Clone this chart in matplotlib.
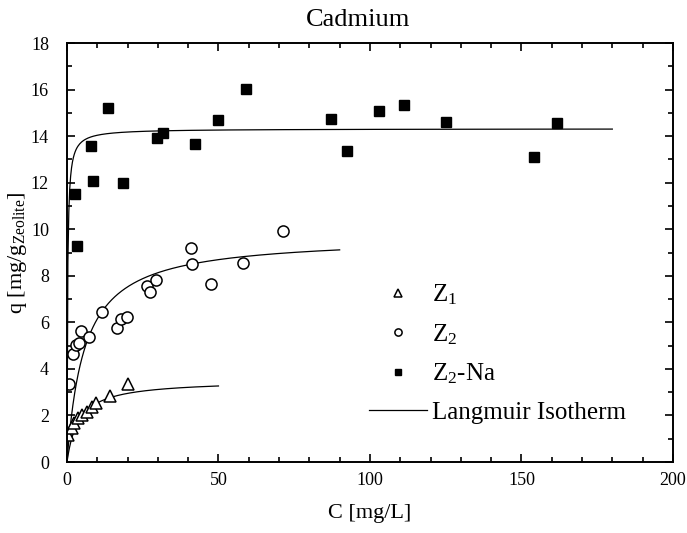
import matplotlib
matplotlib.use('Agg')

import matplotlib.pyplot as plt
import numpy as np

plt.rcParams['font.family'] = 'Liberation Serif'
plt.rcParams['mathtext.fontset'] = 'custom'
plt.rcParams['mathtext.rm'] = 'Liberation Serif'
plt.rcParams['mathtext.it'] = 'Liberation Serif:italic'


# ===============================
# DATA
# ===============================
z1_c = [0.5, 1.5, 2.3, 3.6, 5.0, 6.5, 8.3, 9.6, 14.2, 20.1]
z1_q = [1.15, 1.45, 1.68, 1.88, 2.02, 2.15, 2.35, 2.55, 2.85, 3.35]

z2_c = [0.8, 2.1, 3.0, 4.0, 4.6, 7.2, 11.4, 16.6, 17.9, 19.7,
        26.3, 27.3, 29.3, 41.0, 41.3, 47.5, 58.0, 71.4]
z2_q = [3.35, 4.64, 5.04, 5.12, 5.64, 5.38, 6.44, 5.74, 6.14, 6.22,
        7.56, 7.30, 7.83, 9.20, 8.50, 7.64, 8.57, 9.94]

z2na_c = [2.7, 3.3, 7.8, 8.6, 13.6, 18.4, 29.8, 31.8, 42.1, 49.7,
          59.1, 87.0, 92.3, 103.1, 111.1, 125.0, 154.1, 161.9]
z2na_q = [11.53, 9.28, 13.56, 12.07, 15.2, 11.99, 13.92, 14.13, 13.65, 14.68,
          16.02, 14.75, 13.38, 15.08, 15.35, 14.6, 13.09, 14.56]

# Langmuir fit parameters (q_max, K, C range of the drawn line)
lang_z1 = (3.52, 0.258, 50)
lang_z2 = (9.7, 0.173, 90)
lang_z2na = (14.32, 5.0, 180)


def langmuir(qmax, k, cmax):
    c = np.linspace(0, cmax, 600)
    return c, qmax * k * c / (1 + k * c)


# ===============================
# PLOT
# ===============================
fig = plt.figure(figsize=(6.87, 5.33), dpi=100)
ax = fig.add_axes([0.0975, 0.1332, 0.882, 0.786])

for params in (lang_z1, lang_z2, lang_z2na):
    c, q = langmuir(*params)
    ax.plot(c, q, '-', color='black', linewidth=0.9)

ax.plot(z1_c, z1_q, '^', ms=9, mfc='white', mec='black', mew=1.1,
        linestyle='none', label=r'$\mathrm{Z}_1$')
ax.plot(z2_c, z2_q, 'o', ms=8, mfc='white', mec='black', mew=1.1,
        linestyle='none', label=r'$\mathrm{Z}_2$')
ax.plot(z2na_c, z2na_q, 's', ms=7.5, mfc='black', mec='black',
        linestyle='none', label=r'$\mathrm{Z}_2$-Na')
ax.plot([], [], '-', color='black', linewidth=0.9, label='Langmuir Isotherm')

ax.set_xlim(0, 200)
ax.set_ylim(0, 18)
ax.set_xticks(np.arange(0, 201, 50))
ax.set_xticks(np.arange(0, 201, 10), minor=True)
ax.set_yticks(np.arange(0, 19, 2))
ax.set_yticks(np.arange(0, 19, 1), minor=True)

ax.tick_params(which='both', direction='in', top=True, right=True,
               labelsize=13, width=1.2)
ax.tick_params(axis='y', which='major', length=6, pad=13)
ax.tick_params(axis='x', which='major', length=6, pad=7)
ax.tick_params(which='minor', length=3.5)
for s in ax.spines.values():
    s.set_linewidth(1.4)

ax.set_xlabel('C [mg/L]', fontsize=16, labelpad=11)
ax.set_ylabel(r'q [mg/g$_{\mathrm{Zeolite}}$]', fontsize=16, labelpad=1)
ax.set_title('Cadmium', fontsize=19, pad=12, x=0.48)

ax.legend(loc='upper left', bbox_to_anchor=(0.47, 0.47), frameon=False,
          fontsize=18, markerscale=0.65, handlelength=2.3, handletextpad=0.2,
          labelspacing=0.6, borderpad=0.2)

plt.savefig('out.png', dpi=100)
plt.close()
